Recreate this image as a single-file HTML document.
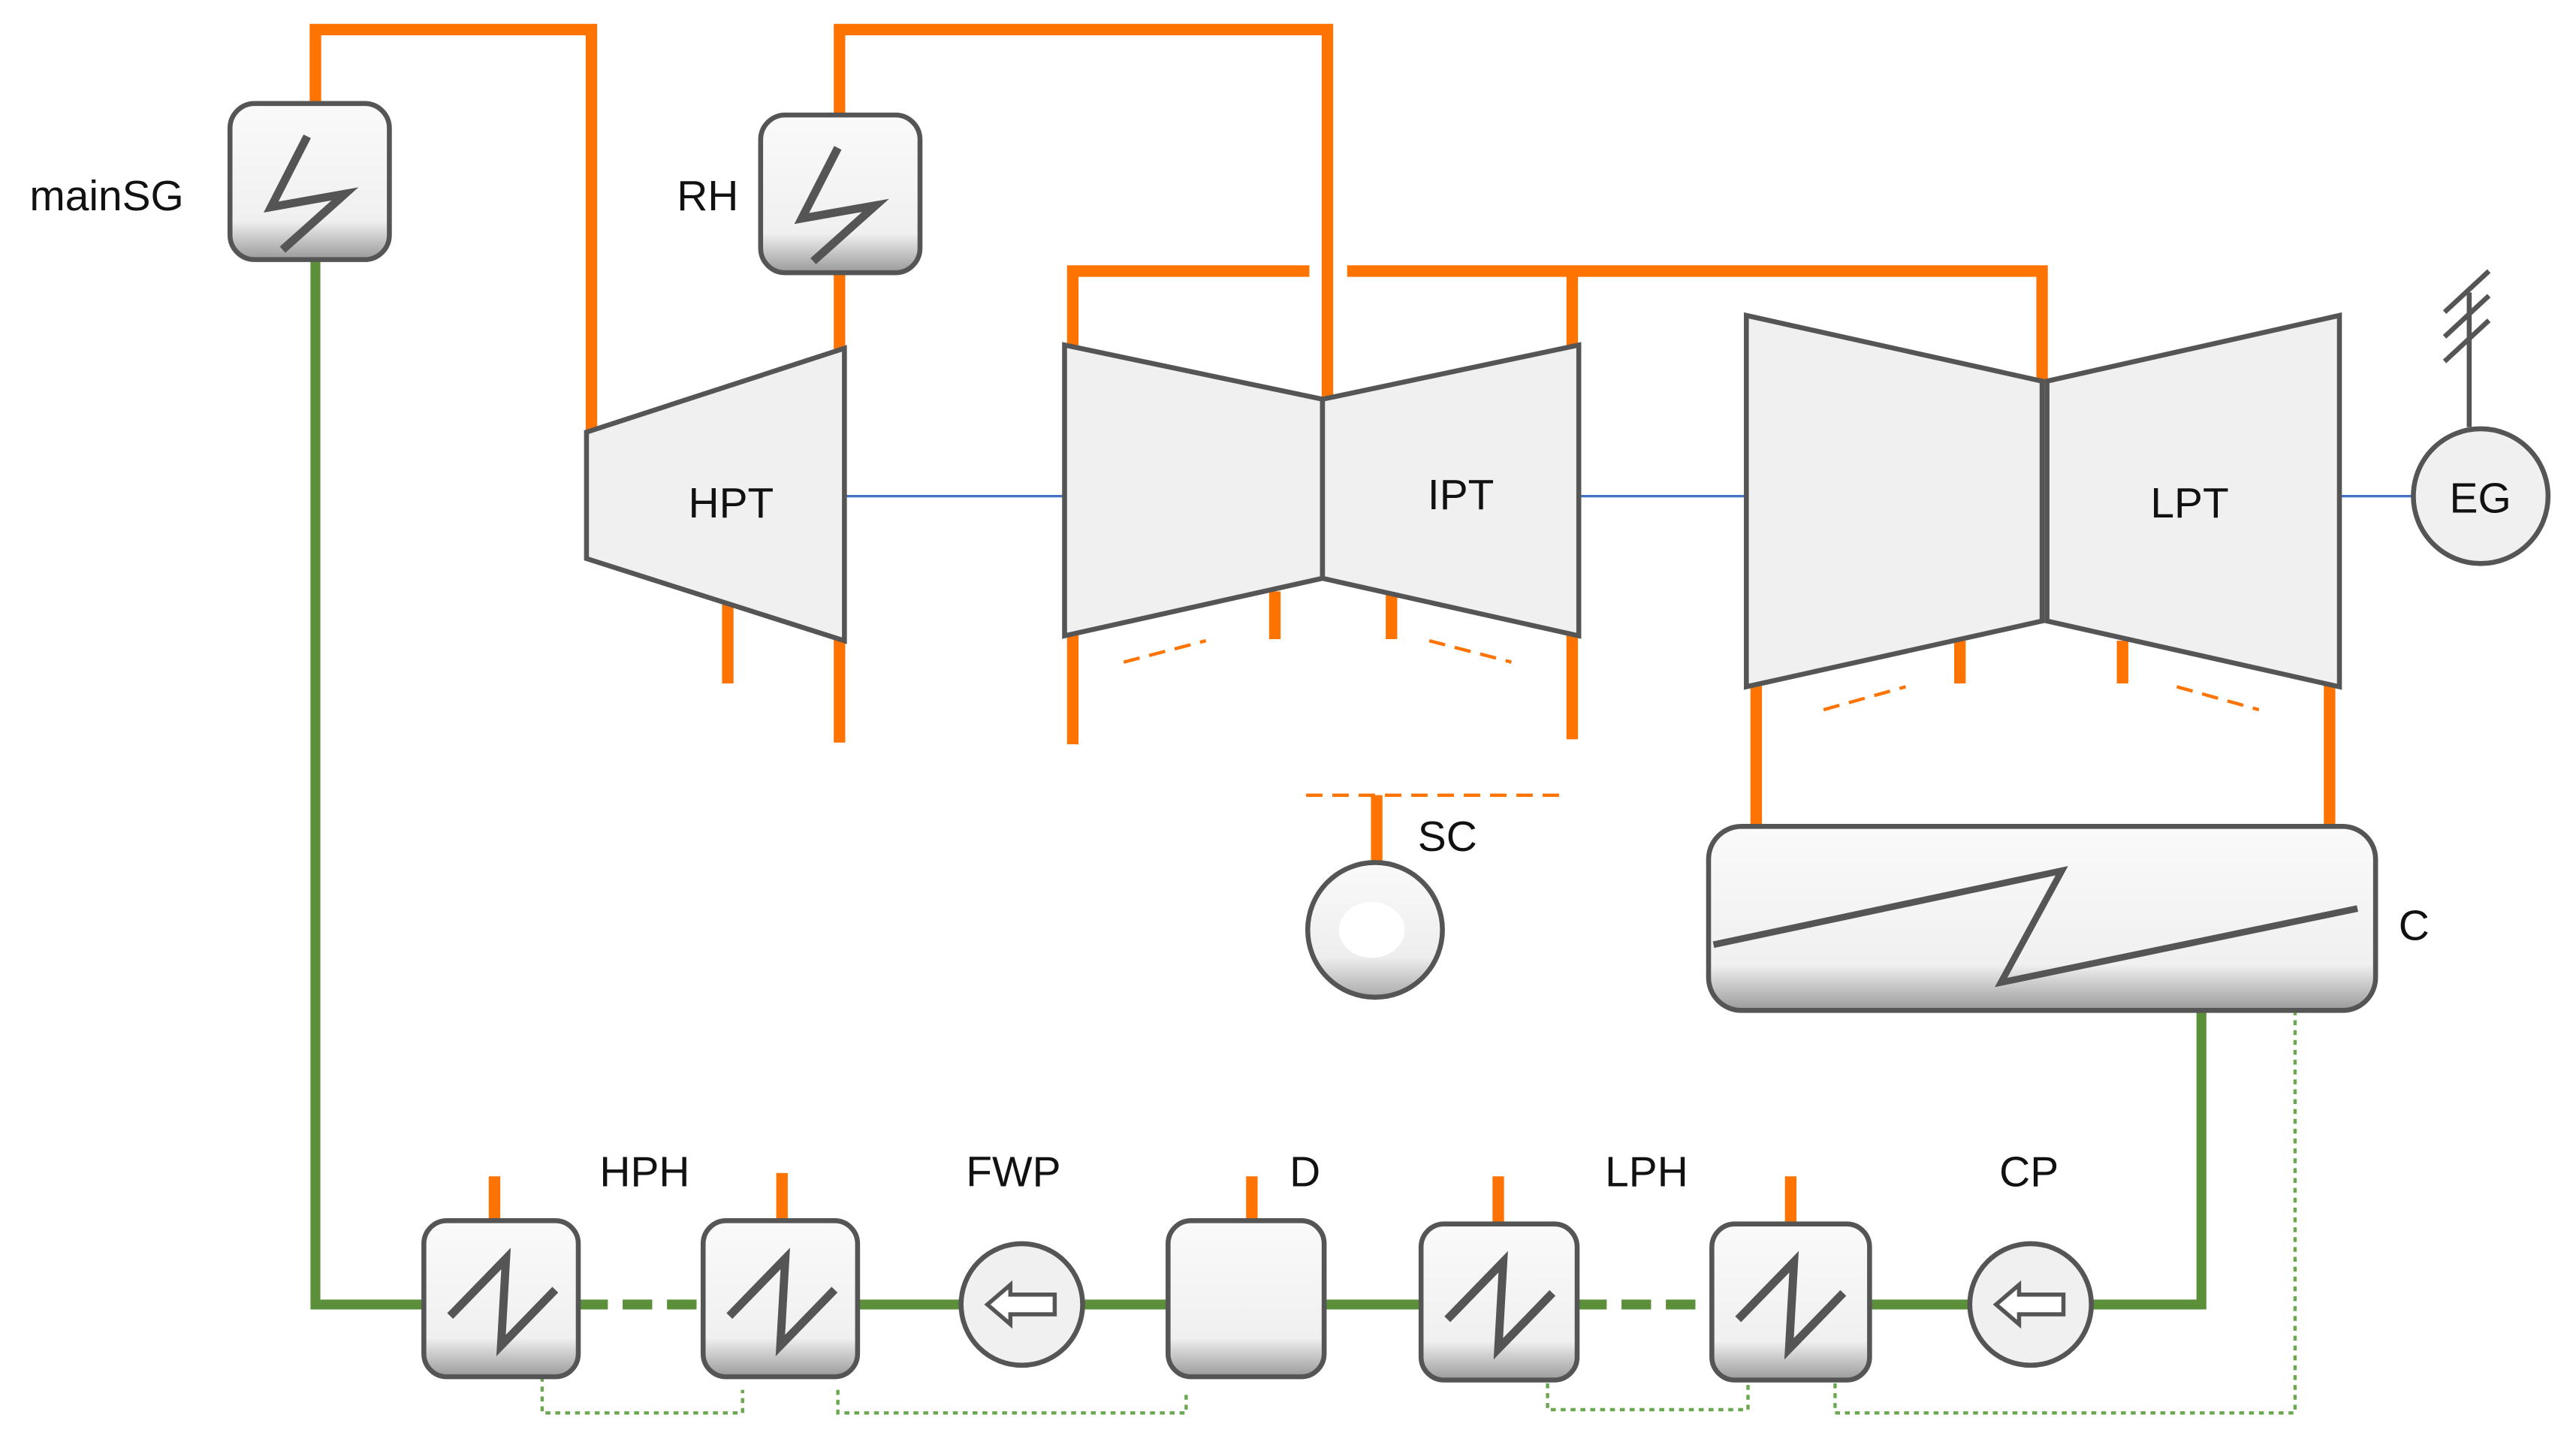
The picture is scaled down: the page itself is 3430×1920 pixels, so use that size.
<!DOCTYPE html>
<html><head><meta charset="utf-8"><style>html,body{margin:0;padding:0;background:#fff}svg{display:block}</style></head><body>
<svg width="3430" height="1920" viewBox="0 0 1568 877.7" preserveAspectRatio="none" xmlns="http://www.w3.org/2000/svg" font-family="Liberation Sans, sans-serif" font-size="26">
<defs>
<linearGradient id="bx" x1="0" y1="0" x2="0" y2="1"><stop offset="0" stop-color="#fafafa"/><stop offset="0.75" stop-color="#f0f0f0"/><stop offset="1" stop-color="#9a9a9a"/></linearGradient>
<linearGradient id="cg" x1="0" y1="0" x2="0" y2="1"><stop offset="0" stop-color="#fafafa"/><stop offset="0.7" stop-color="#eee"/><stop offset="1" stop-color="#aaa"/></linearGradient>
</defs>
<g stroke="#FF7300" stroke-width="7" fill="none">
<polyline points="192,65 192,18 360,18 360,262"/>
<polyline points="511,72 511,18 808,18 808,243"/>
<line x1="511" y1="165" x2="511" y2="214"/>
<polyline points="653,212 653,165 797,165"/>
<polyline points="820,165 1243,165 1243,233"/>
<line x1="957" y1="165" x2="957" y2="212"/>
<line x1="443" y1="368" x2="443" y2="416"/>
<line x1="511" y1="388" x2="511" y2="452"/>
<line x1="653" y1="385" x2="653" y2="453"/>
<line x1="776" y1="360" x2="776" y2="389"/>
<line x1="847" y1="362" x2="847" y2="389"/>
<line x1="957" y1="385" x2="957" y2="450"/>
<line x1="1069" y1="416" x2="1069" y2="503"/>
<line x1="1193" y1="390" x2="1193" y2="416"/>
<line x1="1292" y1="390" x2="1292" y2="416"/>
<line x1="1418" y1="416" x2="1418" y2="503"/>
<line x1="838" y1="484" x2="838" y2="526"/>
<line x1="301" y1="716" x2="301" y2="744"/>
<line x1="476" y1="714" x2="476" y2="744"/>
<line x1="762" y1="716" x2="762" y2="744"/>
<line x1="912" y1="716" x2="912" y2="746"/>
<line x1="1090" y1="716" x2="1090" y2="746"/>
</g>
<g stroke="#FF7300" stroke-width="2" stroke-dasharray="10,6" fill="none">
<line x1="684" y1="403" x2="734" y2="390"/>
<line x1="870" y1="390" x2="920" y2="403"/>
<line x1="1110" y1="432" x2="1160" y2="418"/>
<line x1="1325" y1="418" x2="1375" y2="432"/>
<line x1="795" y1="484" x2="950" y2="484"/>
</g>
<g stroke="#4472C4" stroke-width="1.5"><line x1="514" y1="302" x2="648" y2="302"/><line x1="961" y1="302" x2="1063" y2="302"/><line x1="1424" y1="302" x2="1470" y2="302"/></g>
<g stroke="#5B8F3A" stroke-width="6" fill="none">
<polyline points="192,158 192,794 258,794"/>
<line x1="352" y1="794" x2="428" y2="794" stroke-dasharray="18,9"/>
<line x1="522" y1="794" x2="585" y2="794"/>
<line x1="659" y1="794" x2="711" y2="794"/>
<line x1="806" y1="794" x2="865" y2="794"/>
<line x1="960" y1="794" x2="1042" y2="794" stroke-dasharray="18,9"/>
<line x1="1138" y1="794" x2="1199" y2="794"/>
<polyline points="1272,794 1340,794 1340,615"/>
</g>
<g stroke="#6AA84F" stroke-width="2" stroke-dasharray="3,3" fill="none">
<polyline points="330,838 330,860 452,860 452,846"/>
<polyline points="510,846 510,860 722,860 722,848"/>
<polyline points="942,842 942,858 1064,858 1064,842"/>
<polyline points="1397,615 1397,860 1117,860 1117,840"/>
</g>
<g stroke="#555" stroke-width="3" fill="#f0f0f0">
<polygon points="357,263 514,212 514,390 357,340"/>
<polygon points="648,210 805,243 805,352 648,387"/>
<polygon points="805,243 961,210 961,387 805,352"/>
<polygon points="1063,192 1243,232 1243,378 1063,418"/>
<polygon points="1246,232 1424,192 1424,418 1246,378"/>
<circle cx="1510" cy="302" r="41"/>
<circle cx="837" cy="566" r="41" fill="url(#cg)"/>
<circle cx="622" cy="794" r="37"/>
<circle cx="1236" cy="794" r="37"/>
<g fill="url(#bx)">
<rect x="140" y="63" width="97" height="95" rx="15"/>
<rect x="463" y="70" width="97" height="96" rx="15"/>
<rect x="1040" y="503" width="406" height="112" rx="20"/>
<rect x="258" y="743" width="94" height="95" rx="14"/>
<rect x="428" y="743" width="94" height="95" rx="14"/>
<rect x="711" y="743" width="95" height="95" rx="14"/>
<rect x="865" y="745" width="95" height="95" rx="14"/>
<rect x="1042" y="745" width="96" height="95" rx="14"/>
</g>
</g>
<ellipse cx="835" cy="566" rx="20" ry="17" fill="#fff"/>
<g stroke="#555" stroke-width="5" fill="none">
<polyline points="187,83 165,126 210,118 172,152"/>
<polyline points="510,90 488,133 533,125 495,159"/>
<polyline points="1043,575 1255,530 1218,598 1435,553" stroke-width="4"/>
<polyline points="274,801 308,766 305,819 338,785"/>
<polyline points="444,801 478,766 475,819 508,785"/>
<polyline points="881,803 915,768 912,821 945,787"/>
<polyline points="1058,803 1092,768 1089,821 1122,787"/>
<line x1="1503" y1="260" x2="1503" y2="178" stroke-width="3"/>
<line x1="1488" y1="190" x2="1515" y2="165" stroke-width="3"/>
<line x1="1488" y1="205" x2="1515" y2="180" stroke-width="3"/>
<line x1="1488" y1="220" x2="1515" y2="195" stroke-width="3"/>
</g>
<g stroke="#555" stroke-width="2.5" fill="#fff">
<polygon points="601,794 615,782 615,788 642,788 642,800 615,800 615,806"/>
<polygon points="1215,794 1229,782 1229,788 1256,788 1256,800 1229,800 1229,806"/>
</g>
<g fill="#111">
<text x="18" y="128">mainSG</text>
<text x="412" y="128">RH</text>
<text x="419" y="315">HPT</text>
<text x="869" y="310">IPT</text>
<text x="1309" y="315">LPT</text>
<text x="1491" y="312">EG</text>
<text x="863" y="518">SC</text>
<text x="1460" y="572">C</text>
<text x="365" y="722">HPH</text>
<text x="588" y="722">FWP</text>
<text x="785" y="722">D</text>
<text x="977" y="722">LPH</text>
<text x="1217" y="722">CP</text>
</g>
</svg>
</body></html>
